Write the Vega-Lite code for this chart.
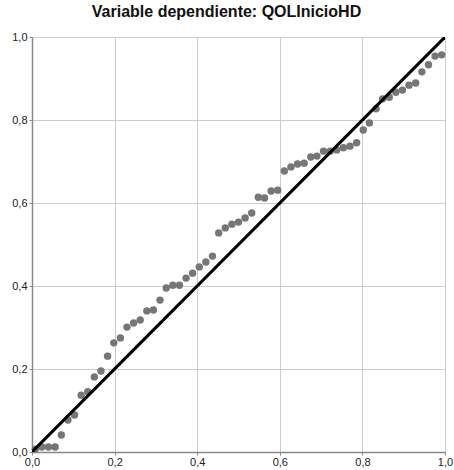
{
  "$schema": "https://vega.github.io/schema/vega-lite/v6.json",
  "width": 413,
  "height": 415,
  "autosize": "none",
  "padding": {"left": 32, "top": 37, "right": 9, "bottom": 18},
  "title": {"text": "Variable dependiente: QOLInicioHD", "font": "Liberation Sans", "fontSize": 16, "fontWeight": "bold", "color": "#111111", "anchor": "middle", "offset": 11, "dx": -12},
  "config": {"view": {"stroke": "#cccccc", "strokeWidth": 1}},
  "datasets": {
    "pts": [
      {"obs": 0.008, "exp": 0.007}, {"obs": 0.024, "exp": 0.012}, {"obs": 0.040, "exp": 0.012}, {"obs": 0.056, "exp": 0.012},
      {"obs": 0.071, "exp": 0.041}, {"obs": 0.087, "exp": 0.077}, {"obs": 0.103, "exp": 0.089}, {"obs": 0.119, "exp": 0.137},
      {"obs": 0.135, "exp": 0.145}, {"obs": 0.151, "exp": 0.181}, {"obs": 0.167, "exp": 0.195}, {"obs": 0.183, "exp": 0.231},
      {"obs": 0.198, "exp": 0.263}, {"obs": 0.214, "exp": 0.275}, {"obs": 0.230, "exp": 0.301}, {"obs": 0.246, "exp": 0.311},
      {"obs": 0.262, "exp": 0.318}, {"obs": 0.278, "exp": 0.340}, {"obs": 0.294, "exp": 0.342}, {"obs": 0.310, "exp": 0.366},
      {"obs": 0.325, "exp": 0.395}, {"obs": 0.341, "exp": 0.402}, {"obs": 0.357, "exp": 0.402}, {"obs": 0.373, "exp": 0.419},
      {"obs": 0.389, "exp": 0.431}, {"obs": 0.405, "exp": 0.446}, {"obs": 0.421, "exp": 0.458}, {"obs": 0.437, "exp": 0.472},
      {"obs": 0.452, "exp": 0.528}, {"obs": 0.468, "exp": 0.540}, {"obs": 0.484, "exp": 0.549}, {"obs": 0.500, "exp": 0.554},
      {"obs": 0.516, "exp": 0.564}, {"obs": 0.532, "exp": 0.576}, {"obs": 0.548, "exp": 0.614}, {"obs": 0.563, "exp": 0.612},
      {"obs": 0.579, "exp": 0.629}, {"obs": 0.595, "exp": 0.631}, {"obs": 0.611, "exp": 0.677}, {"obs": 0.627, "exp": 0.687},
      {"obs": 0.643, "exp": 0.694}, {"obs": 0.659, "exp": 0.696}, {"obs": 0.675, "exp": 0.711}, {"obs": 0.690, "exp": 0.713},
      {"obs": 0.706, "exp": 0.725}, {"obs": 0.722, "exp": 0.725}, {"obs": 0.738, "exp": 0.728}, {"obs": 0.754, "exp": 0.733},
      {"obs": 0.770, "exp": 0.737}, {"obs": 0.786, "exp": 0.745}, {"obs": 0.802, "exp": 0.776}, {"obs": 0.817, "exp": 0.793},
      {"obs": 0.833, "exp": 0.827}, {"obs": 0.849, "exp": 0.851}, {"obs": 0.865, "exp": 0.855}, {"obs": 0.881, "exp": 0.867},
      {"obs": 0.897, "exp": 0.872}, {"obs": 0.913, "exp": 0.884}, {"obs": 0.929, "exp": 0.889}, {"obs": 0.944, "exp": 0.916},
      {"obs": 0.960, "exp": 0.933}, {"obs": 0.976, "exp": 0.954}, {"obs": 0.992, "exp": 0.957}
    ],
    "diag": [{"obs": 0, "exp": 0}, {"obs": 1, "exp": 1}]
  },
  "layer": [
    {
      "data": {"name": "pts"},
      "mark": {"type": "point", "filled": true, "shape": "circle", "size": 55, "color": "#767676", "opacity": 1},
      "encoding": {
        "x": {"field": "obs", "type": "quantitative", "scale": {"domain": [0, 1], "nice": false, "zero": false},
          "axis": {"title": null, "values": [0, 0.2, 0.4, 0.6, 0.8, 1], "labelExpr": "replace(format(datum.value, '.1f'), '.', ',')",
            "grid": true, "gridColor": "#cccccc", "gridWidth": 1, "domainColor": "#888888", "domainWidth": 1.5,
            "tickColor": "#888888", "tickSize": 3, "labelFont": "Liberation Sans", "labelFontSize": 11, "labelColor": "#222222", "labelPadding": 1, "labelFlush": false}},
        "y": {"field": "exp", "type": "quantitative", "scale": {"domain": [0, 1], "nice": false, "zero": false},
          "axis": {"title": null, "values": [0, 0.2, 0.4, 0.6, 0.8, 1], "labelExpr": "replace(format(datum.value, '.1f'), '.', ',')",
            "grid": true, "gridColor": "#cccccc", "gridWidth": 1, "domainColor": "#888888", "domainWidth": 1.5,
            "tickColor": "#888888", "tickSize": 3, "labelFont": "Liberation Sans", "labelFontSize": 11, "labelColor": "#222222", "labelPadding": 2, "labelFlush": false}}
      }
    },
    {
      "data": {"name": "diag"},
      "mark": {"type": "line", "color": "#000000", "strokeWidth": 3, "clip": true},
      "encoding": {
        "x": {"field": "obs", "type": "quantitative"},
        "y": {"field": "exp", "type": "quantitative"}
      }
    }
  ]
}
